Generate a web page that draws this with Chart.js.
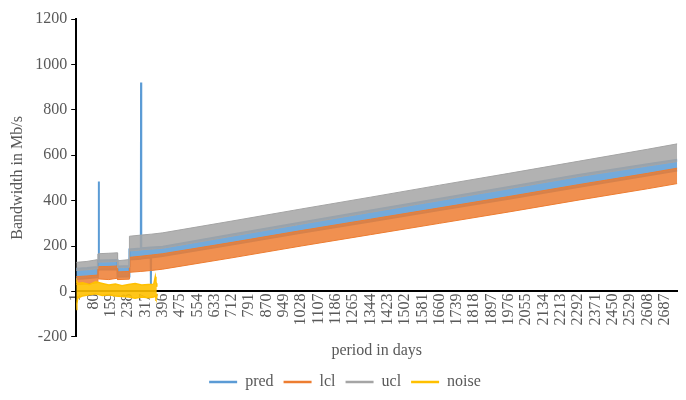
<!DOCTYPE html>
<html>
<head>
<meta charset="utf-8">
<script src="https://cdn.jsdelivr.net/npm/chart.js@4.4.1/dist/chart.umd.min.js"></script>
<style>
  body { margin: 0; background: #fff; }
  #wrap { width: 686px; height: 400px; }
</style>
</head>
<body>
<div id="wrap"><canvas id="bandChart"></canvas></div>
<script>
// x tick labels (every 79 days)
const xTickDays = [1, 80, 159, 238, 317, 396, 475, 554, 633, 712, 791, 870, 949, 1028, 1107, 1186, 1265,
  1344, 1423, 1502, 1581, 1660, 1739, 1818, 1897, 1976, 2055, 2134, 2213, 2292, 2371, 2450, 2529, 2608, 2687];
const lastDay = 2745;
const seriesNames = ['pred', 'lcl', 'ucl', 'noise'];

const days = [1, 50, 99, 100, 103, 104, 105, 150, 189, 190, 243, 244, 296, 297, 298, 341, 342, 343,
  396, 712, 1028, 1344, 1660, 1976, 2292, 2608, 2745];

// each series swings weekly, so it is kept as a low/high envelope
const predHigh = [100, 103, 108, 135, 135, 484, 136, 137, 138, 110, 112, 185, 189, 920, 190, 193, 193, 193,
  197, 251, 304, 356, 408, 460, 513, 560, 580];
const predLow = [55, 58, 62, 95, 95, 96, 96, 97, 98, 65, 66, 140, 144, 145, 145, 149, 30, 149,
  156, 206, 258, 308, 358, 408, 460, 510, 533];
const lclHigh = [65, 68, 72, 108, 108, 109, 109, 110, 112, 86, 88, 150, 155, 155, 155, 160, 160, 160,
  166, 216, 268, 318, 368, 418, 470, 520, 543];
const lclLow = [30, 33, 38, 55, 55, 55, 55, 52, 58, 52, 54, 84, 88, 88, 88, 92, 92, 92,
  98, 148, 200, 250, 300, 350, 402, 452, 475];
const uclHigh = [128, 132, 140, 165, 166, 166, 166, 168, 170, 135, 140, 243, 248, 248, 248, 252, 252, 252,
  258, 310, 363, 415, 468, 520, 573, 626, 650];
const uclLow = [92, 95, 100, 128, 128, 129, 129, 130, 132, 104, 106, 178, 182, 182, 183, 186, 186, 186,
  190, 243, 296, 348, 400, 452, 505, 552, 572];

const noiseDays = [1, 4, 8, 30, 60, 90, 120, 150, 180, 210, 240, 270, 300, 330, 355, 362, 365, 368, 369];
const noiseHigh = [40, 45, 35, 38, 30, 42, 35, 28, 32, 25, 30, 35, 28, 30, 32, 65, 40, 35, 20];
const noiseLow = [-80, -55, -30, -20, -15, -10, -18, -15, -20, -22, -25, -30, -25, -28, -25, -20, -30, -25, -10];

const serif = "'Liberation Serif', 'Times New Roman', serif";
const textGrey = '#595959';

const toPoints = (xs, ys) => xs.map((x, i) => ({ x: x, y: ys[i] }));

function band(name, xs, hi, lo, color, fillColor, width) {
  return [
    { label: name, data: toPoints(xs, hi), borderColor: color, backgroundColor: fillColor,
      borderWidth: width, pointRadius: 0, fill: '+1' },
    { label: name + ' low', data: toPoints(xs, lo), borderColor: color, backgroundColor: fillColor,
      borderWidth: width, pointRadius: 0, fill: false }
  ];
}

// first dataset is painted last, so noise sits on top and pred at the bottom
const datasets = [].concat(
  band('noise', noiseDays, noiseHigh, noiseLow, '#FFC000', 'rgba(255,192,0,0.9)', 1.5),
  band('ucl', days, uclHigh, uclLow, '#A5A5A5', 'rgba(165,165,165,0.85)', 1),
  band('lcl', days, lclHigh, lclLow, '#ED7D31', 'rgba(237,125,49,0.85)', 1),
  band('pred', days, predHigh, predLow, '#5B9BD5', 'rgba(91,155,213,0.85)', 2)
);

const bandConfig = {
  type: 'line',
  data: { datasets: datasets },
  options: {
    responsive: true,
    maintainAspectRatio: false,
    animation: false,
    layout: { padding: { top: 19, left: 4, right: 0, bottom: 0 } },
    plugins: {
      tooltip: { enabled: false },
      legend: {
        position: 'bottom',
        labels: {
          usePointStyle: true,
          pointStyle: 'line',
          pointStyleWidth: 28,
          padding: 10,
          color: textGrey,
          font: { family: serif, size: 16 },
          generateLabels: chart => Chart.defaults.plugins.legend.labels.generateLabels(chart)
            .filter(item => seriesNames.includes(item.text))
            .map(item => Object.assign(item, { lineWidth: 2.5 }))
            .sort((a, b) => seriesNames.indexOf(a.text) - seriesNames.indexOf(b.text))
        }
      }
    },
    scales: {
      x: {
        type: 'linear',
        position: { y: 0 },
        min: 1,
        max: lastDay,
        afterBuildTicks: scale => { scale.ticks = xTickDays.map(v => ({ value: v })); },
        ticks: {
          autoSkip: false,
          minRotation: 90,
          maxRotation: 90,
          padding: 2,
          color: textGrey,
          font: { family: serif, size: 16 },
          callback: v => String(v)
        },
        grid: { display: false, drawTicks: false },
        border: { color: '#000', width: 2 }
      },
      xTitle: {
        type: 'linear',
        axis: 'x',
        position: 'bottom',
        display: true,
        grid: { display: false, drawTicks: false },
        border: { display: false },
        ticks: { display: false },
        title: {
          display: true,
          text: 'period in days',
          color: textGrey,
          font: { family: serif, size: 16 },
          padding: { top: 4, bottom: 4 }
        }
      },
      y: {
        min: -200,
        max: 1200,
        ticks: { stepSize: 200, color: textGrey, font: { family: serif, size: 16 }, padding: 4,
          callback: v => String(v) },
        grid: { drawOnChartArea: false, tickLength: 5, color: '#000' },
        border: { color: '#000', width: 2 },
        title: {
          display: true,
          text: 'Bandwidth in Mb/s',
          color: textGrey,
          font: { family: serif, size: 16 }
        }
      }
    }
  }
};

const bandChart = new Chart(document.getElementById('bandChart'), bandConfig);
</script>
</body>
</html>
